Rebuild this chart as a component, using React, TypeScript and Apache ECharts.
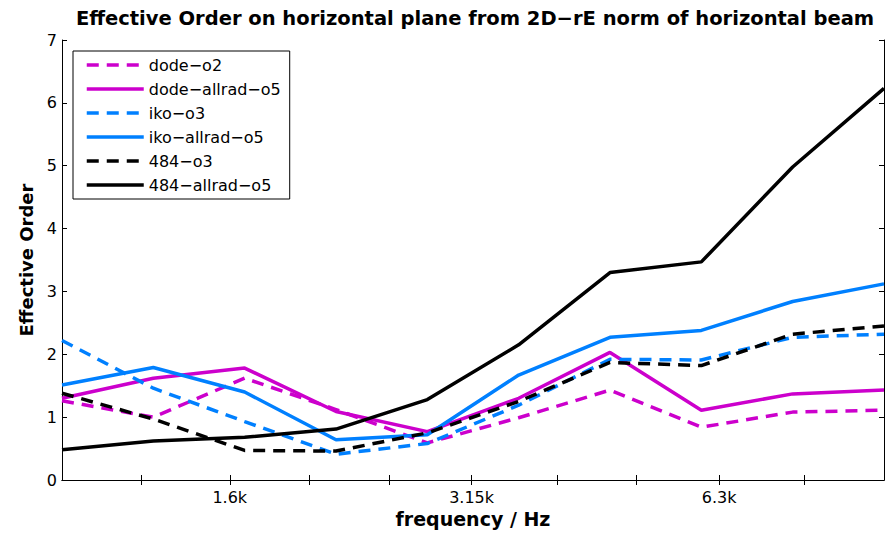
import React, { useEffect, useRef } from 'react';
import * as echarts from 'echarts';

// sample frequencies (logarithmically spaced 1k..10k, 10 points)
const frequencies = [1000, 1291.5, 1668.1, 2154.4, 2782.6, 3593.8, 4641.6, 5994.8, 7742.6, 10000];
const tickFrequencies = [1250, 1600, 2000, 2500, 3150, 4000, 5000, 6300, 8000];
const labelFrequencies = [1600, 3150, 6300];
const labelTexts = ['1.6k', '3.15k', '6.3k'];

const seriesNames = ['dode\u2212o2', 'dode\u2212allrad\u2212o5', 'iko\u2212o3', 'iko\u2212allrad\u2212o5', '484\u2212o3', '484\u2212allrad\u2212o5'];
const dodeO2 = [1.26, 1.0, 1.62, 1.12, 0.59, 0.99, 1.43, 0.84, 1.08, 1.11];
const dodeAllradO5 = [1.30, 1.62, 1.78, 1.09, 0.77, 1.30, 2.03, 1.11, 1.37, 1.43];
const ikoO3 = [2.22, 1.46, 0.93, 0.41, 0.58, 1.19, 1.92, 1.91, 2.27, 2.32];
const ikoAllradO5 = [1.51, 1.79, 1.40, 0.64, 0.72, 1.67, 2.27, 2.38, 2.84, 3.12];
const o3_484 = [1.38, 0.97, 0.47, 0.46, 0.75, 1.25, 1.87, 1.82, 2.32, 2.45];
const allradO5_484 = [0.48, 0.62, 0.68, 0.81, 1.28, 2.15, 3.30, 3.47, 4.98, 6.23];

const seriesValues = [dodeO2, dodeAllradO5, ikoO3, ikoAllradO5, o3_484, allradO5_484];
const seriesColors = ['#CC00CC', '#CC00CC', '#0080FF', '#0080FF', '#000000', '#000000'];
const seriesDashed = [true, false, true, false, true, false];

const FONT = 'DejaVu Sans';

export default function App() {
  const ref = useRef<HTMLDivElement>(null);
  useEffect(() => {
    if (!ref.current) return;
    const chart = echarts.init(ref.current, undefined, { renderer: 'svg' });
    const lg = (f: number) => Math.log10(f);
    const tickVals = tickFrequencies.map(lg);
    const labelVals = labelFrequencies.map(lg);
    const fmt = (v: number) => {
      let best = 0;
      let bd = Infinity;
      labelVals.forEach((lv, i) => {
        const d = Math.abs(lv - v);
        if (d < bd) { bd = d; best = i; }
      });
      return labelTexts[best];
    };
    const axisLine = { show: true, lineStyle: { color: '#000', width: 1 } };
    const option: any = {
      animation: false,
      backgroundColor: '#fff',
      textStyle: { fontFamily: FONT, color: '#000' },
      title: {
        text: 'Effective Order on horizontal plane from 2D\u2212rE norm of horizontal beam',
        left: 475,
        top: 8,
        textAlign: 'center',
        padding: 0,
        textStyle: { fontFamily: FONT, fontWeight: 'bold', fontSize: 19.5, color: '#000' },
      },
      grid: { left: 62, right: 2, top: 40, bottom: 59, containLabel: false },
      legend: {
        orient: 'vertical',
        left: 73,
        top: 51,
        padding: [5, 9, 5, 12],
        itemWidth: 57,
        itemHeight: 14,
        itemGap: 6,
        borderColor: '#000',
        borderWidth: 1,
        backgroundColor: '#fff',
        itemStyle: { opacity: 0 },
        lineStyle: { width: 3.5 },
        textStyle: { fontFamily: FONT, fontSize: 16, color: '#000', lineHeight: 18 },
        data: seriesNames,
      },
      xAxis: [
        {
          type: 'value',
          min: 3,
          max: 4,
          position: 'bottom',
          axisLine,
          axisTick: { show: true, inside: true, length: 5, customValues: tickVals, lineStyle: { color: '#000' } },
          axisLabel: { show: true, customValues: labelVals, formatter: fmt, fontSize: 16, color: '#000', margin: 9, fontFamily: FONT },
          splitLine: { show: false },
          name: 'frequency / Hz',
          nameLocation: 'middle',
          nameGap: 22,
          nameTextStyle: { fontFamily: FONT, fontWeight: 'bold', fontSize: 19, color: '#000' },
        },
        {
          type: 'value',
          min: 3,
          max: 4,
          position: 'top',
          axisLine,
          axisTick: { show: true, inside: true, length: 5, customValues: tickVals, lineStyle: { color: '#000' } },
          axisLabel: { show: false },
          splitLine: { show: false },
        },
      ],
      yAxis: [
        {
          type: 'value',
          min: 0,
          max: 7,
          interval: 1,
          position: 'left',
          axisLine,
          axisTick: { show: true, inside: true, length: 5, lineStyle: { color: '#000' } },
          axisLabel: { fontSize: 16, color: '#000', margin: 5, fontFamily: FONT },
          splitLine: { show: false },
          name: 'Effective Order',
          nameLocation: 'middle',
          nameGap: 23,
          nameRotate: 90,
          nameTextStyle: { fontFamily: FONT, fontWeight: 'bold', fontSize: 18, color: '#000' },
        },
        {
          type: 'value',
          min: 0,
          max: 7,
          interval: 1,
          position: 'right',
          axisLine,
          axisTick: { show: true, inside: true, length: 5, lineStyle: { color: '#000' } },
          axisLabel: { show: false },
          splitLine: { show: false },
        },
      ],
      series: seriesNames.map((name, i) => ({
        name,
        type: 'line',
        xAxisIndex: 0,
        yAxisIndex: 0,
        symbol: 'none',
        showSymbol: false,
        color: seriesColors[i],
        lineStyle: { color: seriesColors[i], width: 3.5, type: seriesDashed[i] ? [12, 8] : 'solid' },
        data: frequencies.map((f, k) => [lg(f), seriesValues[i][k]]),
      })),
    };
    chart.setOption(option);
    return () => chart.dispose();
  }, []);
  return <div ref={ref} style={{ position: 'fixed', left: 0, top: 0, width: 886, height: 539 }} />;
}
